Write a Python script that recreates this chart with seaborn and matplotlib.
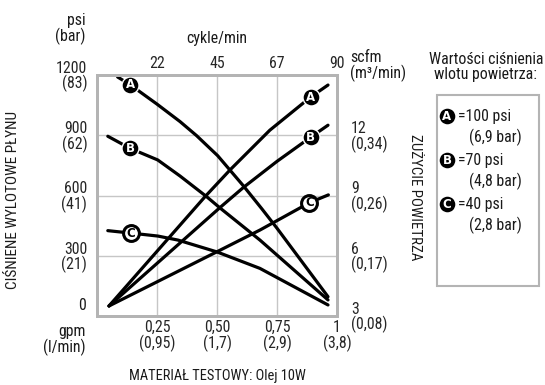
import matplotlib
matplotlib.use("Agg")
import matplotlib.pyplot as plt
import seaborn as sns
import pandas as pd
from matplotlib.patches import Rectangle
from matplotlib import font_manager as fm
from matplotlib.textpath import TextPath

# outlet fluid pressure (psi) vs flow (gpm), one curve per inlet air pressure
press_gpm = {
    "A": [0.086, 0.1375, 0.25, 0.346, 0.415, 0.503, 0.61, 0.686, 0.75, 0.9625],
    "B": [0.045, 0.1375, 0.253, 0.346, 0.457, 0.5125, 0.679, 0.9625],
    "C": [0.045, 0.14, 0.254, 0.3375, 0.5, 0.679, 0.9625],
}
press_psi = {
    "A": [1190, 1152, 1055, 968, 898, 798, 648, 535, 437, 96],
    "B": [895, 835, 777, 697, 594, 538, 378, 80],
    "C": [425, 413, 398, 378, 319, 237, 55],
}
# air consumption (scfm) vs flow (gpm)
air_gpm = {
    "A": [0.05, 0.45, 0.554, 0.72, 0.89, 0.9625],
    "B": [0.05, 0.5125, 0.61, 0.75, 0.89, 0.9625],
    "C": [0.05, 0.5, 0.679, 0.885, 0.964],
}
air_scfm = {
    "A": [3.5, 8.94, 10.27, 12.25, 13.9, 14.5],
    "B": [3.5, 8.4, 9.4, 10.7, 11.9, 12.5],
    "C": [3.5, 6.2, 7.28, 8.64, 9.03],
}

x_ticks = [0.25, 0.5, 0.75, 1.0]
x_labels = ["0,25\n(0,95)", "0,50\n(1,7)", "0,75\n(2,9)", "1\n(3,8)"]
top_labels = ["22", "45", "67", "90"]
psi_ticks = [0, 300, 600, 900, 1200]
psi_labels = ["", "300\n(21)", "600\n(41)", "900\n(62)", "1200\n(83)"]
scfm_ticks = [3, 6, 9, 12]
scfm_labels = ["3\n(0,08)", "6\n(0,17)", "9\n(0,26)", "12\n(0,34)"]
legend_main = ["=100 psi", "=70 psi", "=40 psi"]
legend_sub = ["(6,9 bar)", "(4,8 bar)", "(2,8 bar)"]

press_df = pd.concat([pd.DataFrame({"gpm": press_gpm[k], "psi": press_psi[k], "curve": k}) for k in press_gpm])
air_df = pd.concat([pd.DataFrame({"gpm": air_gpm[k], "scfm": air_scfm[k], "curve": k}) for k in air_gpm])

sns.set_theme(style="white")

# the original uses a narrow sans; take a condensed face if one is installed
prefs = ["Liberation Sans Narrow", "Roboto Condensed", "Open Sans Condensed", "DejaVu Sans"]
cands = [f for f in fm.fontManager.ttflist
         if ("Narrow" in f.name or "Condensed" in f.name or f.stretch in ("condensed", "semi-condensed"))
         and "Mono" not in f.name and "Serif" not in f.name and f.weight in (400, "normal", "regular")
         and f.style == "normal"]
cands.sort(key=lambda f: prefs.index(f.name) if f.name in prefs else 99)
if cands:
    FONT, STRETCH = cands[0].name, cands[0].stretch
else:
    FONT, STRETCH = "Liberation Sans", "normal"
plt.rcParams["font.family"] = [FONT, "DejaVu Sans"]
plt.rcParams["font.stretch"] = STRETCH
plt.rcParams["text.color"] = "#1a1a1a"
fprop = fm.FontProperties(family=FONT, stretch=STRETCH)


def fit(text, px, cap):
    w = TextPath((0, 0), text, size=10, prop=fprop).get_extents().width * 100 / 72
    return min(cap, 10 * px / w)


FS = min(12.5, fit("Wartości ciśnienia", 107, 12.5) * 1.06)
FS_LEFT = fit("CIŚNIENE WYLOTOWE PŁYNU", 177, 11)
FS_RIGHT = fit("ZUŻYCIE POWIETRZA", 125, 11)
FS_BOTTOM = fit("MATERIAŁ TESTOWY: Olej 10W", 175, 11)

W, H = 545, 385
fig = plt.figure(figsize=(W / 100, H / 100), dpi=100)
ax = fig.add_axes([97 / W, 69 / H, 240 / W, 241 / H])
ax2 = ax.twinx()

sns.lineplot(data=press_df, x="gpm", y="psi", hue="curve", palette=["black"] * 3,
             sort=False, estimator=None, legend=False, lw=2.3, ax=ax)
sns.lineplot(data=air_df, x="gpm", y="scfm", hue="curve", palette=["black"] * 3,
             sort=False, estimator=None, legend=False, lw=2.3, ax=ax2)

ax.set_xlim(0, 1)
ax.set_ylim(0, 1200)
ax2.set_ylim(3, 15)
ax.set_xlabel("")
ax.set_ylabel("")
ax2.set_ylabel("")

ax.set_xticks(x_ticks, x_labels, fontsize=FS, linespacing=0.95)
ax.set_yticks(psi_ticks, psi_labels, fontsize=FS, linespacing=0.95)
ax2.set_yticks(scfm_ticks, scfm_labels, fontsize=FS, linespacing=0.95, ha="left")
ax.tick_params(axis="x", length=0, pad=3)
ax.tick_params(axis="y", length=0, pad=7)
ax2.tick_params(axis="y", length=0, pad=10)
for lab in ax.get_yticklabels():
    lab.set_multialignment("right")

top = ax.secondary_xaxis("top")
top.set_xticks(x_ticks, top_labels, fontsize=FS)
top.tick_params(length=0, pad=3)

ax.grid(True, color="#c6c6c6", lw=1)
ax2.grid(False)
for a in (ax, ax2, top):
    for s in a.spines.values():
        s.set_color("#b4b4b4")
        s.set_linewidth(2)


def tag(axis, x, y, letter):
    if letter == "C":
        axis.scatter([x], [y], s=130, facecolor="white", edgecolor="black", lw=2.2, zorder=5)
        axis.text(x, y, letter, color="black", fontsize=8.5, fontweight="bold",
                  ha="center", va="center", zorder=6, family="DejaVu Sans", stretch="normal")
    else:
        axis.scatter([x], [y], s=150, facecolor="black", edgecolor="white", lw=1, zorder=5)
        axis.text(x, y, letter, color="white", fontsize=8.5, fontweight="bold",
                  ha="center", va="center", zorder=6, family="DejaVu Sans", stretch="normal")


for k in press_gpm:
    tag(ax, press_gpm[k][1], press_psi[k][1], k)
    tag(ax2, air_gpm[k][-2], air_scfm[k][-2], k)

# overlay in pixel coordinates for the free texts and the key
ov = fig.add_axes([0, 0, 1, 1])
ov.set_xlim(0, W)
ov.set_ylim(H, 0)
ov.axis("off")

ov.text(86, 29, "psi\n(bar)", ha="right", va="center", fontsize=FS, linespacing=0.95, multialignment="right")
ov.text(86, 306, "0", ha="right", va="center", fontsize=FS)
ov.text(86, 340, "gpm\n(l/min)", ha="right", va="center", fontsize=FS, linespacing=0.95, multialignment="right")
ov.text(217, 39, "cykle/min", ha="center", va="center", fontsize=FS)
ov.text(350, 66, "scfm\n(m³/min)", ha="left", va="center", fontsize=FS, linespacing=0.95)
ov.text(13, 200, "CIŚNIENE WYLOTOWE PŁYNU", rotation=90, ha="center", va="center", fontsize=FS_LEFT)
ov.text(415, 197, "ZUŻYCIE POWIETRZA", rotation=270, ha="center", va="center", fontsize=FS_RIGHT)
ov.text(217, 376, "MATERIAŁ TESTOWY: Olej 10W", ha="center", va="center", fontsize=FS_BOTTOM)

ov.text(486, 67, "Wartości ciśnienia\nwlotu powietrza:", ha="center", va="center",
        fontsize=FS, linespacing=0.95)
ov.add_patch(Rectangle((437, 95), 102, 191, fill=False, edgecolor="#b4b4b4", lw=1.5))
for i, k in enumerate(press_gpm):
    yy = 116 + i * 44
    ov.scatter([447], [yy], s=150, facecolor="black", edgecolor="white", lw=1, zorder=5)
    ov.text(447, yy, k, color="white", fontsize=8.5, fontweight="bold", ha="center",
            va="center", zorder=6, family="DejaVu Sans", stretch="normal")
    ov.text(458, yy, legend_main[i], ha="left", va="center", fontsize=FS)
    ov.text(469, yy + 21, legend_sub[i], ha="left", va="center", fontsize=FS)

fig.savefig("out.png", dpi=100)
